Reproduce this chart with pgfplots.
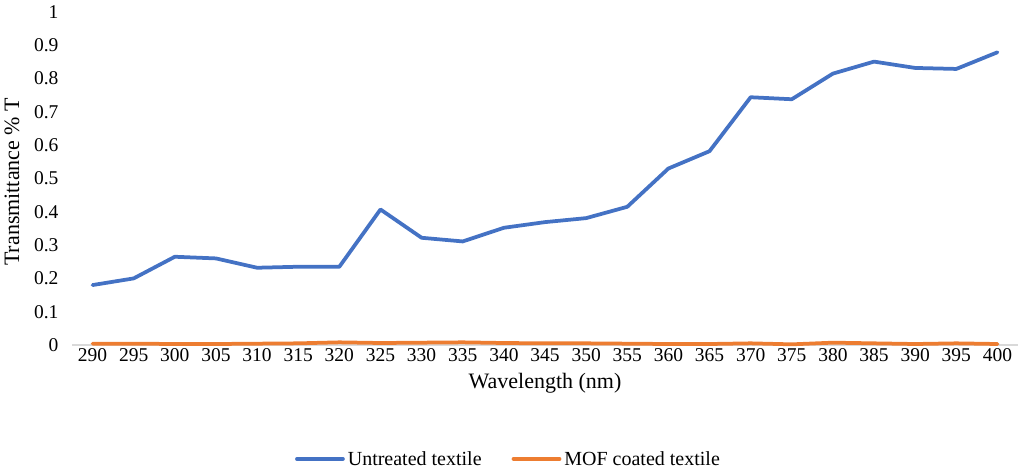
\documentclass[border=0pt]{standalone}
\usepackage{fontspec}
\setmainfont{Liberation Serif}
\usepackage{pgfplots}
\pgfplotsset{compat=1.18}
\definecolor{exblue}{HTML}{4472C4}
\definecolor{exorange}{HTML}{ED7D31}
\definecolor{exaxis}{HTML}{D9D9D9}
\begin{document}
\begin{tikzpicture}
\begin{axis}[
  name=ax,
  scale only axis,
  width=946bp, height=333bp,
  xmin=287.5, xmax=402.5, ymin=0, ymax=1,
  axis lines*=left,
  x axis line style={draw=exaxis, line width=1.3bp},
  y axis line style={draw=none},
  major tick length=0pt,
  xtick={290,295,...,400},
  ytick={0,0.1,...,1},
  /pgf/number format/assume math mode=true,
  xticklabel={\rmfamily\pgfmathprintnumber[assume math mode=true]{\tick}},
  yticklabel={\rmfamily\pgfmathprintnumber[assume math mode=true,fixed,precision=1]{\tick}},
  yticklabel style={font=\fontsize{19.5bp}{23bp}\selectfont, xshift=-10bp},
  xticklabel style={font=\fontsize{19.5bp}{23bp}\selectfont},
  xlabel={Wavelength (nm)},
  ylabel={Transmittance \% T},
  xlabel style={font=\fontsize{22bp}{26bp}\selectfont, at={(axis description cs:0.5,-0.114)}, anchor=center},
  ylabel style={font=\fontsize{22bp}{26bp}\selectfont, at={(axis description cs:-0.0634,0.49)}, anchor=center, rotate=0},
  clip=false,
  legend style={at={(axis description cs:0.4614,-0.342)}, anchor=center, draw=none, fill=none,
    font=\fontsize{20bp}{24bp}\selectfont, legend columns=-1,
    /tikz/every odd column/.append style={column sep=1bp},
    /tikz/every even column/.append style={column sep=28bp},
    inner sep=0pt, cells={anchor=west}},
  legend image code/.code={\draw[#1, line cap=round] (0bp,0bp) -- (46bp,0bp);},
]
\addplot[exblue, line width=3.75bp, line join=round, line cap=round] coordinates {
(290,0.180) (295,0.200) (300,0.265) (305,0.260) (310,0.232) (315,0.235)
(320,0.235) (325,0.407) (330,0.322) (335,0.311) (340,0.352) (345,0.369)
(350,0.381) (355,0.415) (360,0.530) (365,0.582) (370,0.744) (375,0.738)
(380,0.815) (385,0.851) (390,0.832) (395,0.829) (400,0.879)
};
\addlegendentry{Untreated textile}
\addplot[exorange, line width=3.75bp, line join=round, line cap=round] coordinates {
(290,0.004) (295,0.004) (300,0.003) (305,0.003) (310,0.004) (315,0.005)
(320,0.008) (325,0.006) (330,0.007) (335,0.008) (340,0.006) (345,0.005)
(350,0.005) (355,0.004) (360,0.003) (365,0.003) (370,0.005) (375,0.002)
(380,0.007) (385,0.005) (390,0.003) (395,0.005) (400,0.003)
};
\addlegendentry{MOF coated textile}
\end{axis}
\pgfresetboundingbox
\path[use as bounding box] ([shift={(-72bp,-124bp)}]ax.south west) rectangle ([shift={(3bp,12bp)}]ax.north east);
\end{tikzpicture}
\end{document}
